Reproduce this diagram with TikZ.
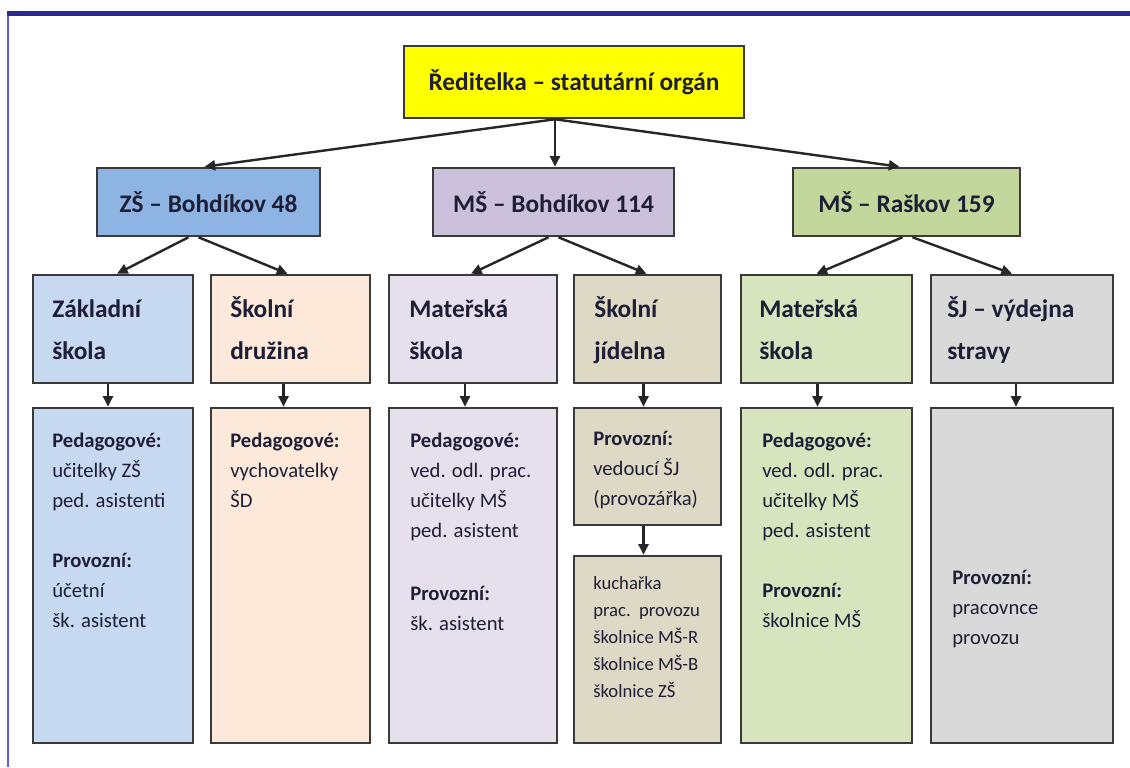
\documentclass[tikz,border=0pt]{standalone}
\usepackage{fontspec}
\setmainfont{Carlito}
\usetikzlibrary{arrows.meta,calc}
\definecolor{cTop}{HTML}{FFFF00}
\definecolor{cZS}{HTML}{8EB4E3}
\definecolor{cMB}{HTML}{CCC1DA}
\definecolor{cMR}{HTML}{C3D69B}
\definecolor{cA}{HTML}{C6D9F1}
\definecolor{cB}{HTML}{FDE9D9}
\definecolor{cC}{HTML}{E5E0EC}
\definecolor{cD}{HTML}{DDD9C4}
\definecolor{cE}{HTML}{D7E4BD}
\definecolor{cF}{HTML}{D9D9D9}
\definecolor{edge}{HTML}{3A3A3A}
\definecolor{txtc}{HTML}{1E1E36}
\definecolor{frameDark}{HTML}{2B2B8F}
\definecolor{frameLight}{HTML}{5A5AE0}
\tikzset{
  box/.style={draw=edge, line width=1.9pt, rectangle, inner sep=0pt},
  hdr/.style={font=\fontsize{19}{23}\selectfont\bfseries, text=txtc},
  tl/.style={font=\fontsize{19}{23}\selectfont\bfseries, text=txtc, inner sep=0pt, anchor=base west},
  lb/.style={font=\fontsize{15.5}{18}\selectfont\bfseries, text=txtc, inner sep=0pt, anchor=base west},
  it/.style={font=\fontsize{15.5}{18}\selectfont, text=txtc, inner sep=0pt, anchor=base west},
  sm/.style={font=\fontsize{14}{17}\selectfont, text=txtc, inner sep=0pt, anchor=base west},
  arr/.style={draw=black!85, line width=1.8pt, -{Triangle[length=8pt,width=7.5pt]}}
}
\begin{document}
\begin{tikzpicture}[x=0.75pt,y=-0.75pt]
\useasboundingbox (0,0) rectangle (1130,767);
\fill[white] (0,0) rectangle (1130,767);
% frame
\draw[frameLight, line width=1.5pt] (8,12) -- (8,767);
\draw[frameDark, line width=4pt] (7,13.5) -- (1130,13.5);

% level 1
\node[box, hdr, fill=cTop, minimum width=255pt, minimum height=54pt] (top) at (574,82) {Ředitelka – statutární orgán};

% level 2
\node[box, hdr, fill=cZS, minimum width=167.25pt, minimum height=51pt] (zs) at (208.5,202) {ZŠ – Bohdíkov 48};
\node[box, hdr, fill=cMB, minimum width=180.75pt, minimum height=51pt] (mb) at (553.5,202) {MŠ – Bohdíkov 114};
\node[box, hdr, fill=cMR, minimum width=170.25pt, minimum height=51pt] (mr) at (906.5,202) {MŠ – Raškov 159};

% level 3
\node[box, fill=cA, minimum width=120pt, minimum height=81pt] (a3) at (113,329) {};
\node[box, fill=cB, minimum width=119.25pt, minimum height=81pt] (b3) at (290.5,329) {};
\node[box, fill=cC, minimum width=126pt, minimum height=81pt] (c3) at (473,329) {};
\node[box, fill=cD, minimum width=110.25pt, minimum height=81pt] (d3) at (647.5,329) {};
\node[box, fill=cE, minimum width=128.25pt, minimum height=81pt] (e3) at (826.5,329) {};
\node[box, fill=cF, minimum width=136.5pt, minimum height=81pt] (f3) at (1022,329) {};

\node[tl] (a3t1) at (52,317) {Základní};
\node[tl] (a3t2) at (52,359) {škola};
\node[tl] (b3t1) at (230,317) {Školní};
\node[tl] (b3t2) at (230,359) {družina};
\node[tl] (c3t1) at (409,317) {Mateřská};
\node[tl] (c3t2) at (409,359) {škola};
\node[tl] (d3t1) at (594,317) {Školní};
\node[tl] (d3t2) at (594,359) {jídelna};
\node[tl] (e3t1) at (759,317) {Mateřská};
\node[tl] (e3t2) at (759,359) {škola};
\node[tl] (f3t1) at (947,317) {ŠJ – výdejna};
\node[tl] (f3t2) at (947,359) {stravy};

% level 4
\node[box, fill=cA, minimum width=120pt, minimum height=251.25pt] (a4) at (113,575.5) {};
\node[box, fill=cB, minimum width=119.25pt, minimum height=251.25pt] (b4) at (290.5,575.5) {};
\node[box, fill=cC, minimum width=126pt, minimum height=251.25pt] (c4) at (473,575.5) {};
\node[box, fill=cD, minimum width=110.25pt, minimum height=87.75pt] (d4) at (647.5,466.5) {};
\node[box, fill=cD, minimum width=110.25pt, minimum height=140.25pt] (d5) at (647.5,649.5) {};
\node[box, fill=cE, minimum width=128.25pt, minimum height=251.25pt] (e4) at (826.5,575.5) {};
\node[box, fill=cF, minimum width=136.5pt, minimum height=251.25pt] (f4) at (1022,575.5) {};

\node[lb] (a4t1) at (52,447) {Pedagogové:};
\node[it] (a4t2) at (52,477) {učitelky ZŠ};
\node[it] (a4t3) at (52,507) {ped. asistenti};
\node[lb] (a4t4) at (52,567) {Provozní:};
\node[it] (a4t5) at (52,597) {účetní};
\node[it] (a4t6) at (52,627) {šk. asistent};

\node[lb] (b4t1) at (230,447) {Pedagogové:};
\node[it] (b4t2) at (230,477) {vychovatelky};
\node[it] (b4t3) at (230,507) {ŠD};

\node[lb] (c4t1) at (410,447) {Pedagogové:};
\node[it] (c4t2) at (410,477) {ved. odl. prac.};
\node[it] (c4t3) at (410,507) {učitelky MŠ};
\node[it] (c4t4) at (410,537) {ped. asistent};
\node[lb] (c4t5) at (410,600) {Provozní:};
\node[it] (c4t6) at (410,630) {šk. asistent};

\node[lb] (d4t1) at (593,445) {Provozní:};
\node[it] (d4t2) at (593,475) {vedoucí ŠJ};
\node[it] (d4t3) at (593,505) {(provozářka)};

\node[sm] (d5t1) at (593,589) {kuchařka};
\node[sm] (d5t2) at (593,616) {prac.\ \ provozu};
\node[sm] (d5t3) at (593,643) {školnice MŠ-R};
\node[sm] (d5t4) at (593,670) {školnice MŠ-B};
\node[sm] (d5t5) at (593,697) {školnice ZŠ};

\node[lb] (e4t1) at (762,447) {Pedagogové:};
\node[it] (e4t2) at (762,477) {ved. odl. prac.};
\node[it] (e4t3) at (762,507) {učitelky MŠ};
\node[it] (e4t4) at (762,537) {ped. asistent};
\node[lb] (e4t5) at (762,597) {Provozní:};
\node[it] (e4t6) at (762,627) {školnice MŠ};

\node[lb] (f4t1) at (952,584) {Provozní:};
\node[it] (f4t2) at (952,614) {pracovnce};
\node[it] (f4t3) at (952,644) {provozu};

% connectors level 1 -> 2
\coordinate (ts) at ($(top.south)+(-19,0)$);
\draw[arr] (ts) -- ($(zs.north)+(-4,0)$);
\draw[arr] (ts) -- (ts |- mb.north);
\draw[arr] (ts) -- ($(mr.north)+(-7,0)$);

% level 2 -> 3
\draw[arr] ($(zs.south)+(-20,0)$) -- ($(a3.north)+(4,0)$);
\draw[arr] ($(zs.south)+(-10,0)$) -- ($(b3.north)+(-3,0)$);
\draw[arr] ($(mb.south)+(-5,0)$) -- ($(c3.north)+(-2,0)$);
\draw[arr] ($(mb.south)+(5,0)$) -- ($(d3.north)+(-1,0)$);
\draw[arr] ($(mr.south)+(-4,0)$) -- ($(e3.north)+(-10,0)$);
\draw[arr] ($(mr.south)+(6,0)$) -- ($(f3.north)+(-10,0)$);

% level 3 -> 4
\draw[arr] ($(a3.south)+(-5,0)$) -- ($(a4.north)+(-5,0)$);
\draw[arr] ($(b3.south)+(-7,0)$) -- ($(b4.north)+(-7,0)$);
\draw[arr] ($(c3.south)+(-8,0)$) -- ($(c4.north)+(-8,0)$);
\draw[arr] ($(d3.south)+(-4,0)$) -- ($(d4.north)+(-4,0)$);
\draw[arr] ($(d4.south)+(-4,0)$) -- ($(d5.north)+(-4,0)$);
\draw[arr] ($(e3.south)+(-9,0)$) -- ($(e4.north)+(-9,0)$);
\draw[arr] ($(f3.south)+(-6,0)$) -- ($(f4.north)+(-6,0)$);
\end{tikzpicture}
\end{document}
